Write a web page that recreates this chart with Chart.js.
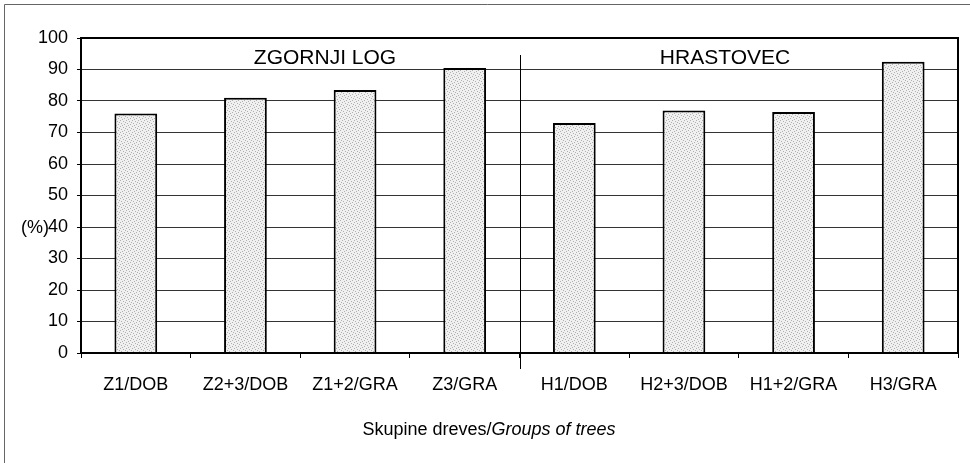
<!DOCTYPE html>
<html>
<head>
<meta charset="utf-8">
<script src="https://cdn.jsdelivr.net/npm/chart.js@4.4.0/dist/chart.umd.min.js"></script>
<style>
html,body{margin:0;padding:0;background:#fff;}
#wrap{width:970px;height:463px;position:relative;}
</style>
</head>
<body>
<div id="wrap"><canvas id="c" width="970" height="463"></canvas></div>
<script>
const categories = ["Z1/DOB","Z2+3/DOB","Z1+2/GRA","Z3/GRA","H1/DOB","H2+3/DOB","H1+2/GRA","H3/GRA"];
const values = [76, 81, 83.5, 90.5, 73, 77, 76.5, 92.5];
const groupLabels = ["ZGORNJI LOG", "HRASTOVEC"];
const yTicks = [0,10,20,30,40,50,60,70,80,90,100];
const yUnit = "(%)";
const xTitleNormal = "Skupine dreves/";
const xTitleItalic = "Groups of trees";

const FONT = "'Liberation Sans', Arial, sans-serif";

function makePattern(){
  const p = document.createElement('canvas');
  p.width = 6; p.height = 6;
  const g = p.getContext('2d');
  g.fillStyle = '#f0f0f0'; g.fillRect(0,0,6,6);
  g.fillStyle = '#b0b0b0';
  [[0,0],[3,1],[1,3],[4,4],[2,5],[5,2]].forEach(([x,y])=>g.fillRect(x,y,1,1));
  return g.createPattern(p,'repeat');
}

const decor = {
  id:'decor',
  beforeDraw(chart){
    const ctx = chart.ctx;
    ctx.save();
    ctx.fillStyle = '#fff';
    ctx.fillRect(0,0,chart.width,chart.height);
    ctx.strokeStyle = '#666';
    ctx.lineWidth = 1;
    ctx.beginPath();
    ctx.moveTo(4.5, chart.height); ctx.lineTo(4.5, 4.5); ctx.lineTo(chart.width, 4.5);
    ctx.stroke();
    ctx.restore();
  },
  afterDraw(chart){
    const ctx = chart.ctx, a = chart.chartArea, xs = chart.scales.x, ys = chart.scales.y;
    ctx.save();
    // frame
    ctx.strokeStyle = '#000'; ctx.lineWidth = 2;
    ctx.strokeRect(a.left, a.top, a.right - a.left, a.bottom - a.top);
    // divider between groups
    const xd = Math.round((xs.getPixelForValue(3) + xs.getPixelForValue(4))/2) + 0.5;
    ctx.lineWidth = 1;
    ctx.beginPath(); ctx.moveTo(xd, a.top + 17); ctx.lineTo(xd, a.bottom + 16); ctx.stroke();
    // group labels
    ctx.fillStyle = '#000';
    ctx.font = "21px " + FONT;
    ctx.textAlign = 'center'; ctx.textBaseline = 'middle';
    ctx.fillText(groupLabels[0], a.left + 244, a.top + 20);
    ctx.fillText(groupLabels[1], a.left + 644, a.top + 20);
    // y unit
    ctx.font = "18px " + FONT;
    ctx.textAlign = 'left';
    ctx.fillText(yUnit, 21, ys.getPixelForValue(40) + 1);
    // x title with italic part
    ctx.font = "18px " + FONT;
    const w1 = ctx.measureText(xTitleNormal).width;
    ctx.font = "italic 18px " + FONT;
    const w2 = ctx.measureText(xTitleItalic).width;
    const cx = 489, cy = 430;
    const x0 = cx - (w1 + w2)/2;
    ctx.font = "18px " + FONT;
    ctx.fillText(xTitleNormal, x0, cy);
    ctx.font = "italic 18px " + FONT;
    ctx.fillText(xTitleItalic, x0 + w1, cy);
    ctx.restore();
  }
};

new Chart(document.getElementById('c'), {
  type:'bar',
  data:{
    labels: categories,
    datasets:[{
      data: values,
      backgroundColor: makePattern(),
      borderColor:'#000',
      borderWidth:2,
      borderSkipped:'bottom',
      categoryPercentage:1.0,
      barPercentage:0.39
    }]
  },
  options:{
    responsive:false,
    animation:false,
    devicePixelRatio:1,
    layout:{padding:{left:0, top:38, right:12, bottom:0}},
    plugins:{legend:{display:false}, tooltip:{enabled:false}},
    scales:{
      x:{
        afterFit(s){ s.height = 110; },
        grid:{offset:true, drawOnChartArea:false, drawTicks:true, tickLength:5, tickColor:'#000'},
        border:{display:true, color:'#000', width:2},
        ticks:{color:'#000', font:{family:FONT, size:18}, padding:16, maxRotation:0, autoSkip:false}
      },
      y:{
        min:0, max:100,
        afterFit(s){ s.width = 81; },
        afterBuildTicks(s){ s.ticks = yTicks.map(v=>({value:v})); },
        grid:{color:'#333', lineWidth:1, drawTicks:true, tickLength:4, tickColor:'#000'},
        border:{display:true, color:'#000', width:2},
        ticks:{color:'#000', font:{family:FONT, size:18}, padding:9}
      }
    }
  },
  plugins:[decor]
});
</script>
</body>
</html>
